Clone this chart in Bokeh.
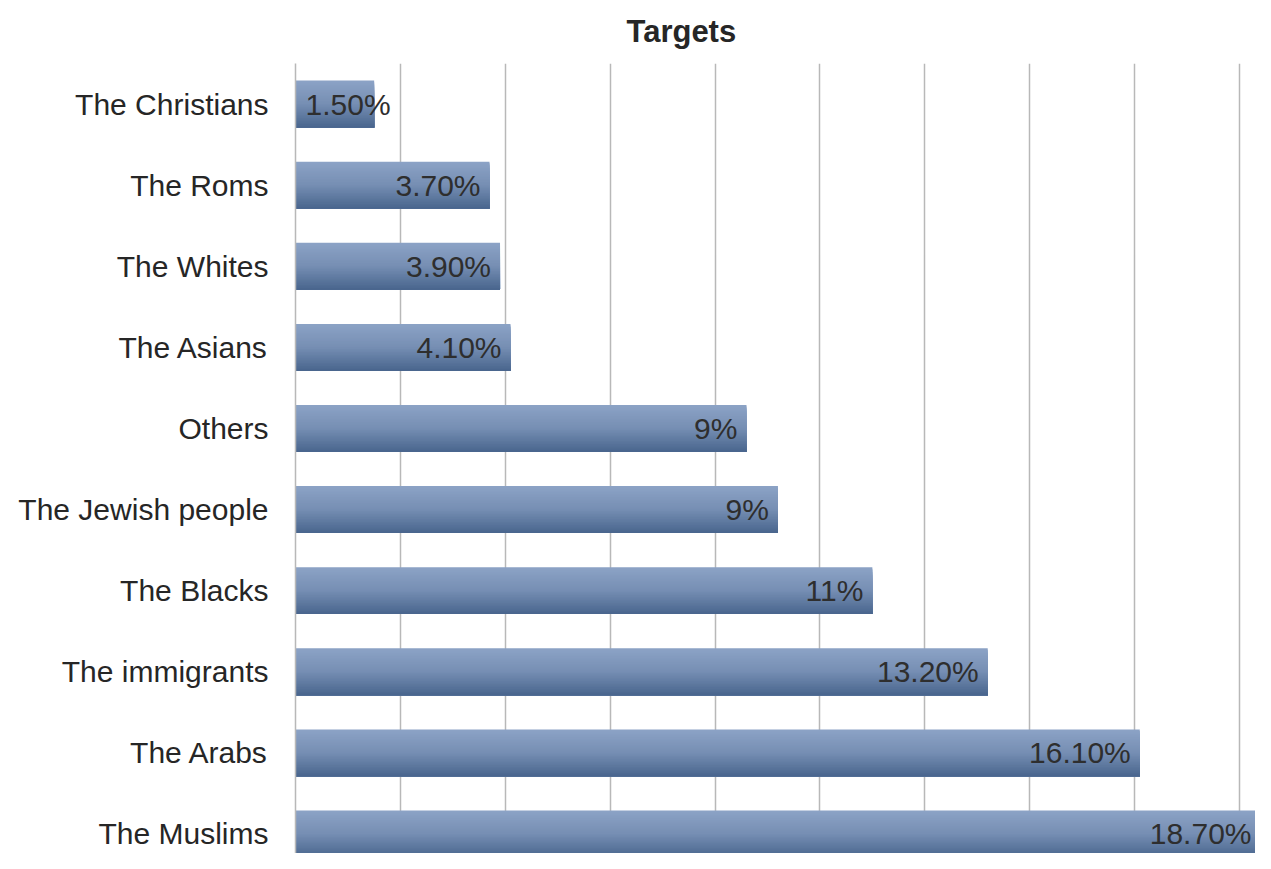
import numpy as np
from bokeh.plotting import figure
from bokeh.models import Range1d, FixedTicker, ColumnDataSource
from bokeh.core.properties import value
from bokeh.embed import file_html
from bokeh.resources import INLINE

# ---- data (top to bottom as shown) ----
categories = ["The Christians", "The Roms", "The Whites", "The Asians", "Others",
              "The Jewish people", "The Blacks", "The immigrants", "The Arabs", "The Muslims"]
values = [1.5, 3.7, 3.9, 4.1, 8.6, 9.2, 11.0, 13.2, 16.1, 18.7]
labels = ["1.50%", "3.70%", "3.90%", "4.10%", "9%", "9%", "11%", "13.20%", "16.10%", "18.70%"]
grid_ticks = [0, 2, 4, 6, 8, 10, 12, 14, 16, 18]
title_text = "Targets"

FONT = "Liberation Sans"
n = len(categories)
ypos = [n - 0.5 - i for i in range(n)]

W, H = 1255, 853
LEFT, TOP = 295, 62
PXU = 52.44          # pixels per percentage unit
PXC = 81.2           # pixels per category
x_end = (W - LEFT) / PXU
y_start = 10.0 - (H - TOP) / PXC

p = figure(width=W, height=H, output_backend="svg", toolbar_location=None,
           x_range=Range1d(0, x_end), y_range=Range1d(y_start, 10.0),
           min_border_left=LEFT, min_border_right=0, min_border_top=TOP,
           min_border_bottom=0)
p.outline_line_color = None
p.background_fill_color = "white"

# gradient bars built from overlapping strips (each runs to the bar bottom)
bar_h = 0.578
N = 30
top_c = np.array([140, 163, 198])
mid_c = np.array([118, 142, 179])
bot_c = np.array([72, 101, 141])
vals = np.array(values)
yarr = np.array(ypos)
for k in range(N):
    f = (k + 0.5) / N  # 0 at top, 1 at bottom
    if f < 0.5:
        c = top_c + (mid_c - top_c) * (f / 0.5)
    else:
        c = mid_c + (bot_c - mid_c) * ((f - 0.5) / 0.5)
    col = "#%02x%02x%02x" % tuple(int(round(v)) for v in c)
    top_edge = yarr + bar_h / 2 - k * bar_h / N
    bottom_edge = yarr - bar_h / 2
    src = ColumnDataSource(dict(y=(top_edge + bottom_edge) / 2,
                                h=top_edge - bottom_edge, right=vals))
    p.hbar(y="y", right="right", left=0, height="h", source=src,
           fill_color=col, line_color=None)

# data labels
lx, align, xoff = [], [], []
for v in values:
    if v * PXU < 100:
        lx.append(0.0); align.append("left"); xoff.append(10)
    else:
        lx.append(min(v, x_end)); align.append("right"); xoff.append(-9 if v < x_end else -4)
lsrc = ColumnDataSource(dict(x=lx, y=ypos, text=labels, align=align, xoff=xoff))
p.text(x="x", y="y", text="text", text_align="align", x_offset="xoff", source=lsrc,
       text_baseline="middle", text_font=value(FONT), text_font_size="30px",
       text_color="#2e2e2e")

# axes
p.xaxis.visible = False
p.xgrid.ticker = FixedTicker(ticks=grid_ticks)
p.xgrid.grid_line_color = "#b8b8b8"
p.xgrid.grid_line_width = 1.5
p.ygrid.grid_line_color = None

p.yaxis.ticker = FixedTicker(ticks=ypos)
p.yaxis.major_label_overrides = {y: c for y, c in zip(ypos, categories)}
p.yaxis.major_label_text_font = FONT
p.yaxis.major_label_text_font_size = "30px"
p.yaxis.major_label_text_color = "#262626"
p.yaxis.major_label_standoff = 21
p.yaxis.major_tick_line_color = None
p.yaxis.minor_tick_line_color = None
p.yaxis.axis_line_color = "#b8b8b8"
p.yaxis.axis_line_width = 1.5

# title
p.title.text = title_text
p.title.text_font = FONT
p.title.text_font_style = "bold"
p.title.text_font_size = "31px"
p.title.text_color = "#262626"
p.title.align = "left"
p.title.vertical_align = "top"
p.title.text_line_height = 0.8
p.title.offset = 331
p.title.standoff = 26

open("out.html", "w").write(file_html(p, INLINE))
